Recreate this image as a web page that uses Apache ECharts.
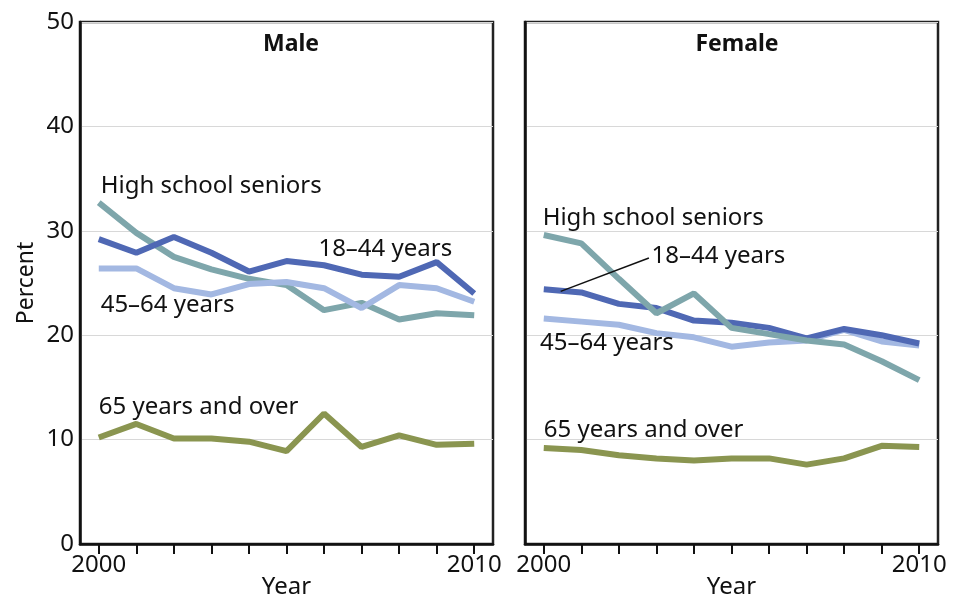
<!DOCTYPE html>
<html>
<head>
<meta charset="utf-8">
<script src="https://cdn.jsdelivr.net/npm/echarts@6/dist/echarts.min.js"></script>
<style>
  html, body { margin: 0; padding: 0; background: #fff; }
  #chart { width: 960px; height: 598px; }
</style>
</head>
<body>
<div id="chart"></div>
<script>
// years on the x axis
var years = ['2000', '2001', '2002', '2003', '2004', '2005', '2006', '2007', '2008', '2009', '2010'];
var yTicks = [0, 10, 20, 30, 40, 50];

// Male
var male1844 = [29.2, 27.9, 29.4, 27.9, 26.1, 27.1, 26.7, 25.8, 25.6, 27.0, 24.0];
var male4564 = [26.4, 26.4, 24.5, 23.9, 24.9, 25.1, 24.5, 22.6, 24.8, 24.5, 23.2];
var maleHS   = [32.7, 29.8, 27.5, 26.3, 25.4, 24.8, 22.4, 23.1, 21.5, 22.1, 21.9];
var male65   = [10.2, 11.5, 10.1, 10.1, 9.8, 8.9, 12.5, 9.3, 10.4, 9.5, 9.6];

// Female
var female1844 = [24.4, 24.1, 23.0, 22.6, 21.4, 21.2, 20.7, 19.7, 20.6, 20.0, 19.2];
var female4564 = [21.6, 21.3, 21.0, 20.2, 19.8, 18.9, 19.3, 19.5, 20.5, 19.4, 19.0];
var femaleHS   = [29.6, 28.8, 25.4, 22.1, 24.0, 20.7, 20.1, 19.5, 19.1, 17.5, 15.7];
var female65   = [9.2, 9.0, 8.5, 8.2, 8.0, 8.2, 8.2, 7.6, 8.2, 9.4, 9.3];

// in-chart labels: [panel, text, year position, value]
var seriesLabels = [
    [0, 'High school seniors', 2000.05, 34.3],
    [0, '18–44 years', 2005.85, 28.2],
    [0, '45–64 years', 2000.05, 22.9],
    [0, '65 years and over', 2000.0, 13.1],
    [1, 'High school seniors', 1999.97, 31.2],
    [1, '18–44 years', 2002.87, 27.6],
    [1, '45–64 years', 1999.9, 19.2],
    [1, '65 years and over', 2000.0, 10.9]
];
// leader line in Female panel: [panel, x1, y1, x2, y2]
var leader = [1, 2000.45, 24.2, 2002.8, 27.4];

var colors = {
    a1844: '#4f68b4',
    a4564: '#a3b8e2',
    hs: '#7ea6ab',
    a65: '#8a9550'
};
var FONT = 'Noto Sans';
var FS = 24;

var chartDom = document.getElementById('chart');
var myChart = echarts.init(chartDom);

function makeX(gi) {
    return {
        type: 'category',
        gridIndex: gi,
        data: years,
        boundaryGap: true,
        name: 'Year',
        nameLocation: 'middle',
        nameGap: 31,
        nameMoveOverlap: false,
        nameTextStyle: { color: '#111', fontSize: FS, fontFamily: FONT },
        axisLine: { show: true, lineStyle: { color: '#111', width: 2.5 } },
        axisTick: { show: true, alignWithLabel: true, interval: 0, length: 10, lineStyle: { color: '#111', width: 2 } },
        axisLabel: {
            interval: function (idx) { return idx === 0 || idx === years.length - 1; },
            color: '#111', fontSize: FS, fontFamily: FONT, margin: 9
        },
        splitLine: { show: false }
    };
}

function makeY(gi) {
    return {
        type: 'value',
        gridIndex: gi,
        min: yTicks[0],
        max: yTicks[yTicks.length - 1],
        interval: 10,
        name: gi === 0 ? 'Percent' : '',
        nameLocation: 'middle',
        nameRotate: 90,
        nameGap: 42,
        nameMoveOverlap: false,
        nameTextStyle: { color: '#111', fontSize: FS - 1, fontFamily: FONT },
        axisLine: { show: true, lineStyle: { color: '#111', width: 2.5 } },
        axisTick: { show: false },
        axisLabel: { show: gi === 0, color: '#111', fontSize: FS, fontFamily: FONT, margin: 6 },
        splitLine: { show: true, lineStyle: { color: '#d8d8d8', width: 1 } }
    };
}

function line(gi, data, color) {
    return {
        type: 'line',
        xAxisIndex: gi,
        yAxisIndex: gi,
        data: data,
        symbol: 'none',
        lineStyle: { color: color, width: 6 },
        itemStyle: { color: color },
        z: 3
    };
}

var option = {
    animation: false,
    title: [
        { text: 'Male', left: 286, top: 28, textAlign: 'center',
          textStyle: { fontSize: 23, fontWeight: 'bold', color: '#111', fontFamily: FONT } },
        { text: 'Female', left: 732, top: 28, textAlign: 'center',
          textStyle: { fontSize: 23, fontWeight: 'bold', color: '#111', fontFamily: FONT } }
    ],
    grid: [
        { left: 80, right: 467, top: 22, bottom: 54, show: true, borderColor: '#222', borderWidth: 2.5, outerBoundsMode: 'none' },
        { left: 525, right: 22, top: 22, bottom: 54, show: true, borderColor: '#222', borderWidth: 2.5, outerBoundsMode: 'none' }
    ],
    xAxis: [makeX(0), makeX(1)],
    yAxis: [makeY(0), makeY(1)],
    series: [
        line(0, male65, colors.a65),
        line(0, maleHS, colors.hs),
        line(0, male4564, colors.a4564),
        line(0, male1844, colors.a1844),
        line(1, female65, colors.a65),
        line(1, female4564, colors.a4564),
        line(1, female1844, colors.a1844),
        line(1, femaleHS, colors.hs)
    ]
};
option && myChart.setOption(option);

// place the series labels using the axes' own scales
function toPixel(gi, yearPos, val) {
    var p0 = myChart.convertToPixel({ gridIndex: gi }, [0, val]);
    var p1 = myChart.convertToPixel({ gridIndex: gi }, [years.length - 1, val]);
    var f = (yearPos - Number(years[0])) / (years.length - 1);
    return [p0[0] + f * (p1[0] - p0[0]), p0[1]];
}

var graphics = seriesLabels.map(function (l) {
    var p = toPixel(l[0], l[2], l[3]);
    return {
        type: 'text',
        x: p[0],
        y: p[1],
        z: 10,
        style: {
            text: l[1],
            fill: '#111',
            font: FS + 'px "' + FONT + '"',
            textAlign: 'left',
            textVerticalAlign: 'middle'
        }
    };
});
var a = toPixel(leader[0], leader[1], leader[2]);
var b = toPixel(leader[0], leader[3], leader[4]);
graphics.push({
    type: 'line',
    z: 10,
    shape: { x1: a[0], y1: a[1], x2: b[0], y2: b[1] },
    style: { stroke: '#111', lineWidth: 1.5 }
});
myChart.setOption({ graphic: graphics });
</script>
</body>
</html>
